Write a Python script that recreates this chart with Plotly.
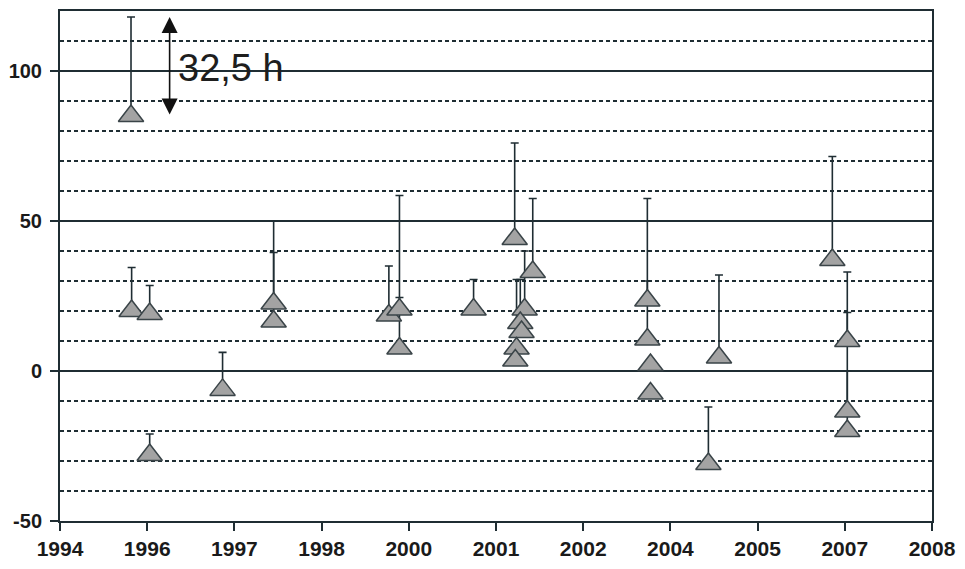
import plotly.graph_objects as go

# Tick positions along the time axis and the labels printed under them
tick_pos = [1994.0, 1995.4, 1996.8, 1998.2, 1999.6, 2001.0, 2002.4, 2003.8, 2005.2, 2006.6, 2008.0]
tick_labels = ["1994", "1996", "1997", "1998", "2000", "2001", "2002", "2004", "2005", "2007", "2008"]
y_ticks = [-50, 0, 50, 100]
y_tick_labels = ["-50", "0", "50", "100"]

# Observations: time, value (h) and upward error (h)
t = [1995.14, 1995.15, 1995.44, 1995.44, 1996.61, 1997.43, 1997.43,
     1999.28, 1999.45, 1999.45, 2000.64,
     2001.30, 2001.46, 2001.39, 2001.41, 2001.33, 2001.31, 2001.59,
     2003.43, 2003.43, 2003.48, 2003.48,
     2004.41, 2004.58,
     2006.40, 2006.64, 2006.64, 2006.64]
value = [85, 20, 19, -28, -6.3, 22.5, 16.5,
         18.5, 20.5, 7.5, 20.5,
         44, 20.5, 16, 13, 7.5, 3.5, 33,
         23.5, 10.5, 2, -7.5,
         -31, 4.5,
         37, 10, -13.5, -20]
err_up = [33, 14.5, 9.5, 7, 12.5, 27.5, 23,
          16.5, 38, 17, 10,
          32, 19.5, 14.5, 0, 23, 0, 24.5,
          34, 19.5, 0, 0,
          19, 27.5,
          34.5, 23, 33, 20]

# Range of the highlighted interval (h)
span_low, span_high = 85, 118
span_label = "32,5 h"

line_col = "#1f2d33"

fig = go.Figure()
fig.add_trace(go.Scatter(
    x=t, y=value, mode="markers",
    marker=dict(symbol="triangle-up", size=22, color="#a3a3a3",
                line=dict(color="#3a4448", width=1.5)),
    error_y=dict(type="data", symmetric=False, array=err_up,
                 arrayminus=[0] * len(err_up), color=line_col,
                 thickness=1.6, width=4),
    showlegend=False, cliponaxis=False,
))

# Double-headed arrow marking the interval
fig.add_annotation(x=1995.76, y=span_high, ax=1995.76, ay=span_low,
                   xref="x", yref="y", axref="x", ayref="y",
                   text="", showarrow=True, arrowside="end+start",
                   arrowhead=2, startarrowhead=2, arrowsize=2.0, startarrowsize=2.0,
                   arrowwidth=1.6, arrowcolor="#111111", standoff=0, startstandoff=0)
fig.add_annotation(x=1995.86, y=101, xref="x", yref="y", text=span_label,
                   showarrow=False, xanchor="left", yanchor="middle",
                   font=dict(family="Liberation Sans, Arial", size=38, color="#1e1e1e"))

fig.update_layout(
    width=965, height=569,
    margin=dict(l=60, r=32, t=9, b=46),
    paper_bgcolor="white", plot_bgcolor="white",
    xaxis=dict(range=[1994, 2008], tickvals=tick_pos, ticktext=tick_labels,
               showgrid=False, zeroline=False,
               showline=True, linecolor=line_col, linewidth=2, mirror=True,
               ticks="outside", ticklen=8, tickwidth=2, tickcolor=line_col,
               tickfont=dict(family="Liberation Sans, Arial", size=21, color="#1a1a1a", weight="bold")),
    yaxis=dict(range=[-50, 120], tickvals=y_ticks, ticktext=y_tick_labels,
               showgrid=True, gridcolor=line_col, gridwidth=1.5, zeroline=False,
               showline=True, linecolor=line_col, linewidth=2, mirror=True,
               ticks="outside", ticklen=8, tickwidth=2, tickcolor=line_col,
               ticklabelstandoff=4,
               tickfont=dict(family="Liberation Sans, Arial", size=20, color="#1a1a1a", weight="bold"),
               minor=dict(dtick=10, tick0=0, showgrid=True, gridcolor=line_col,
                          gridwidth=1.5, griddash="4px,3px", ticks="")),
)

fig.write_html("out.html")
